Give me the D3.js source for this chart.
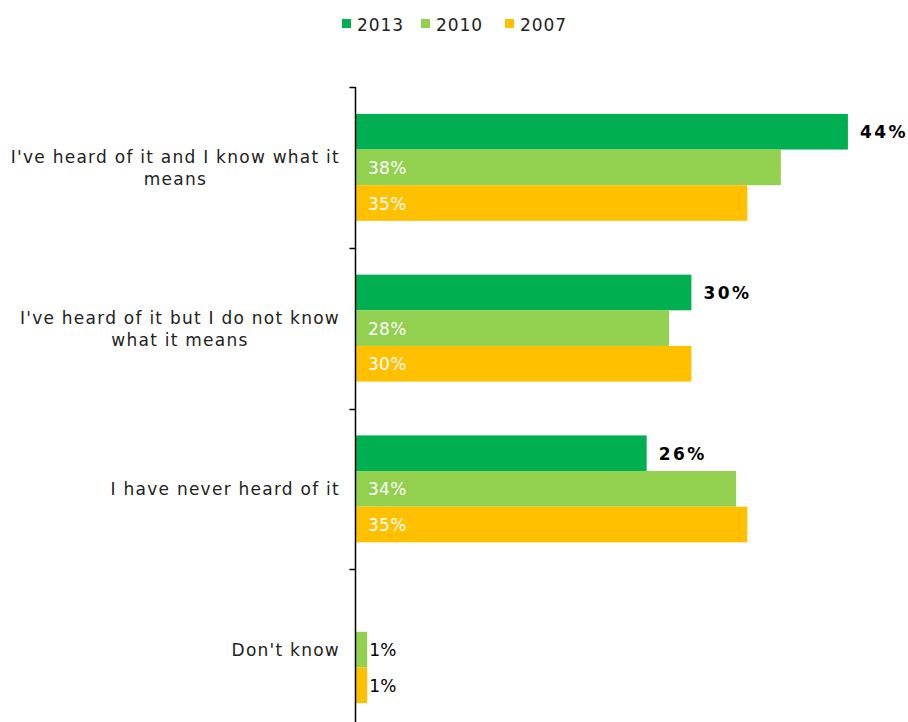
<!DOCTYPE html>
<html>
<head>
<meta charset="utf-8">
<script src="https://cdn.jsdelivr.net/npm/d3@7"></script>
<style>
  html, body { margin: 0; padding: 0; background: #fff; }
  svg { display: block; }
  text { font-family: "DejaVu Sans", Verdana, sans-serif; }
</style>
</head>
<body>
<svg id="chart" width="908" height="722"></svg>
<script>
// ---- data ----
const categories = [
  ["I've heard of it and I know what it", "means"],
  ["I've heard of it but I do not know", "what it means"],
  ["I have never heard of it"],
  ["Don't know"]
];
const seriesNames = ["2013", "2010", "2007"];
const values2013 = [44, 30, 26, null];
const values2010 = [38, 28, 34, 1];
const values2007 = [35, 30, 35, 1];
const seriesColors = ["#00B050", "#92D050", "#FFC000"];

const seriesValues = [values2013, values2010, values2007];
const catKeys = categories.map(c => c.join(" "));

const svg = d3.select("#chart");

const x = d3.scaleLinear().domain([0, 50]).range([356, 915]);
const y = d3.scaleBand().domain(catKeys).range([87, 730]).paddingInner(0).paddingOuter(0);
const ySub = d3.scaleBand().domain(seriesNames).range([0, y.bandwidth()]).paddingInner(0).paddingOuter(0.755);

// bars
const g = svg.append("g");
catKeys.forEach((ck, ci) => {
  seriesNames.forEach((sn, si) => {
    const v = seriesValues[si][ci];
    if (v == null) return;
    const by = y(ck) + ySub(sn);
    const bh = ySub.bandwidth();
    g.append("rect")
      .attr("x", x(0))
      .attr("y", by)
      .attr("width", x(v) - x(0))
      .attr("height", bh)
      .attr("fill", seriesColors[si]);
    const cy = by + bh / 2;
    if (si === 0) {
      g.append("text")
        .attr("x", x(v) + 12)
        .attr("y", cy + 6.5)
        .attr("font-size", 17)
        .attr("font-weight", "bold")
        .attr("letter-spacing", 2.5)
        .attr("fill", "#000")
        .text(v + "%");
    } else {
      const small = v < 5;
      g.append("text")
        .attr("x", small ? x(v) + 2 : x(0) + 12)
        .attr("y", cy + 6.5)
        .attr("font-size", 17)
        .attr("letter-spacing", 0.3)
        .attr("fill", small ? "#000" : "#fff")
        .text(v + "%");
    }
  });
});

// axis
const axis = d3.axisLeft(y).tickSize(6).tickFormat("");
const axG = svg.append("g").attr("transform", "translate(355.5,0)").call(axis);
axG.select(".domain").attr("stroke", "#000").attr("stroke-width", 1.5).attr("d", "M0,87V722");
axG.selectAll(".tick").remove();
const tickYs = d3.range(catKeys.length + 1).map(i => 87 + i * y.step());
axG.selectAll("line.tk").data(tickYs).enter().append("line")
  .attr("x1", -6).attr("x2", 0)
  .attr("y1", d => Math.round(d) + 0.5).attr("y2", d => Math.round(d) + 0.5)
  .attr("stroke", "#000").attr("stroke-width", 1.5);

// category labels
const labelRight = 340;
categories.forEach((lines, ci) => {
  const center = y(catKeys[ci]) + y.bandwidth() / 2;
  const t = svg.append("g");
  const texts = lines.map((ln, li) => t.append("text")
    .attr("font-size", 17)
    .attr("letter-spacing", 1.25)
    .attr("fill", "#222")
    .attr("text-anchor", "middle")
    .attr("y", center + 6.5 + (li - (lines.length - 1) / 2) * 22)
    .text(ln));
  const wmax = d3.max(texts, tx => tx.node().getComputedTextLength());
  texts.forEach(tx => tx.attr("x", labelRight - wmax / 2));
});

// legend
const legendX = [342, 421, 505];
seriesNames.forEach((sn, si) => {
  svg.append("rect")
    .attr("x", legendX[si]).attr("y", 19)
    .attr("width", 9).attr("height", 9)
    .attr("fill", seriesColors[si]);
  svg.append("text")
    .attr("x", legendX[si] + 15).attr("y", 31)
    .attr("font-size", 17)
    .attr("letter-spacing", 0.9)
    .attr("fill", "#222")
    .text(sn);
});
</script>
</body>
</html>
